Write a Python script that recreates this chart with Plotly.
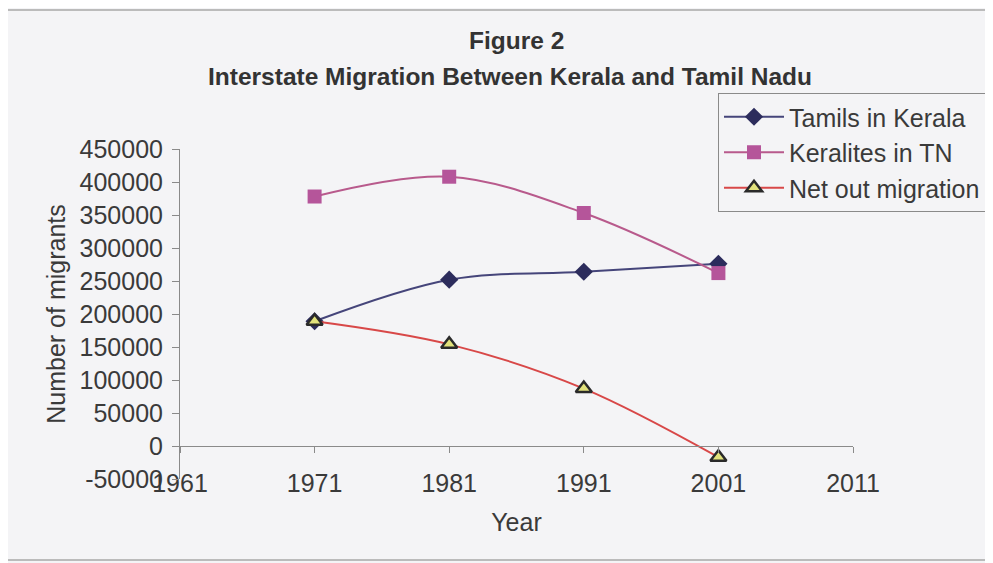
import plotly.graph_objects as go

# ---- data ----
years = [1971, 1981, 1991, 2001]
tamils_in_kerala = [189000, 252000, 264000, 276000]
keralites_in_tn = [378000, 408000, 353000, 262000]
net_out_migration = [189000, 154000, 87000, -17000]

x_ticks = [1961, 1971, 1981, 1991, 2001, 2011]
y_ticks = [-50000, 0, 50000, 100000, 150000, 200000, 250000, 300000, 350000, 400000, 450000]

FONT = "Liberation Sans, Arial, sans-serif"
BG = "#f4f4f6"
TXT = "#3a3a3a"

# page body has an 8px margin; figure coordinates are screen coordinates minus OFF
OFF = 8
W, H = 993 - OFF, 563 - OFF
ML, MT = 180 - OFF, 149 - OFF
PW, PH = 673, 330
MR, MB = W - ML - PW, H - MT - PH


def px_x(p):
    return (p - OFF - ML) / PW


def px_y(p):
    return (MT + PH - (p - OFF)) / PH


fig = go.Figure()

fig.add_trace(go.Scatter(
    x=years, y=tamils_in_kerala, name="Tamils in Kerala", mode="lines+markers",
    line=dict(color="#45457a", width=2, shape="spline", smoothing=1),
    marker=dict(symbol="diamond", size=14, color="#2c2c5c", line=dict(width=0)),
))
fig.add_trace(go.Scatter(
    x=years, y=keralites_in_tn, name="Keralites in TN", mode="lines+markers",
    line=dict(color="#b85a8c", width=2, shape="spline", smoothing=1),
    marker=dict(symbol="square", size=14, color="#b5559a", line=dict(width=0)),
))
fig.add_trace(go.Scatter(
    x=years, y=net_out_migration, name="Net out migration", mode="lines+markers",
    xaxis="x2",
    line=dict(color="#d84848", width=2, shape="spline", smoothing=1),
    marker=dict(symbol="triangle-up", size=14, color="#e2e27c",
                line=dict(width=2.5, color="#2a2a2a")),
))

fig.update_layout(
    width=W, height=H,
    margin=dict(l=ML, r=MR, t=MT, b=MB, autoexpand=False),
    paper_bgcolor=BG, plot_bgcolor=BG,
    font=dict(family=FONT, size=25, color=TXT),
    showlegend=True,
    legend=dict(
        xref="container", yref="container",
        x=(718 - OFF) / W, y=1 - (93 - OFF) / H, xanchor="left", yanchor="top",
        bordercolor="#8a8a8a", borderwidth=1, bgcolor=BG,
        font=dict(size=25, color=TXT), itemwidth=60,
    ),
    xaxis=dict(
        range=[1961, 2011], tickvals=x_ticks, ticktext=[str(v) for v in x_ticks],
        showgrid=False, zeroline=False, showline=False, ticks="", automargin=False,
        ticklabelstandoff=-13,
        title=dict(text="Year", standoff=17, font=dict(size=25, color=TXT)),
        tickfont=dict(size=25, color=TXT),
    ),
    xaxis2=dict(
        range=[1961, 2011], tickvals=x_ticks, overlaying="x", anchor="free",
        position=(0 - y_ticks[0]) / (y_ticks[-1] - y_ticks[0]),
        showgrid=False, zeroline=False, showline=True, linecolor="#8a8a8a", linewidth=1,
        ticks="outside", ticklen=6, tickcolor="#8a8a8a", showticklabels=False,
        automargin=False,
    ),
    yaxis=dict(
        range=[y_ticks[0], y_ticks[-1]], tickvals=y_ticks, ticktext=[str(v) for v in y_ticks],
        showgrid=False, zeroline=False, showline=True, linecolor="#8a8a8a", linewidth=1,
        ticks="outside", ticklen=7, tickcolor="#8a8a8a", automargin=False,
        ticklabelstandoff=4,
        tickfont=dict(size=25, color=TXT),
        title=dict(text="Number of migrants", standoff=6, font=dict(size=25, color=TXT)),
    ),
    annotations=[
        dict(text="<b>Figure 2</b>", xref="paper", yref="paper", x=px_x(516), y=px_y(41),
             xanchor="center", yanchor="middle", showarrow=False,
             font=dict(size=24.5, color="#333333", family=FONT)),
        dict(text="<b>Interstate Migration Between Kerala and Tamil Nadu</b>", xref="paper", yref="paper",
             x=px_x(510), y=px_y(77), xanchor="center", yanchor="middle", showarrow=False,
             font=dict(size=24.5, color="#333333", family=FONT)),
    ],
    shapes=[
        dict(type="rect", xref="paper", yref="paper",
             x0=px_x(5), x1=px_x(990), y0=px_y(560), y1=px_y(10),
             line=dict(color="#a8a8a8", width=1.5), fillcolor="rgba(0,0,0,0)", layer="below"),
    ],
)

fig.write_html("out.html")
